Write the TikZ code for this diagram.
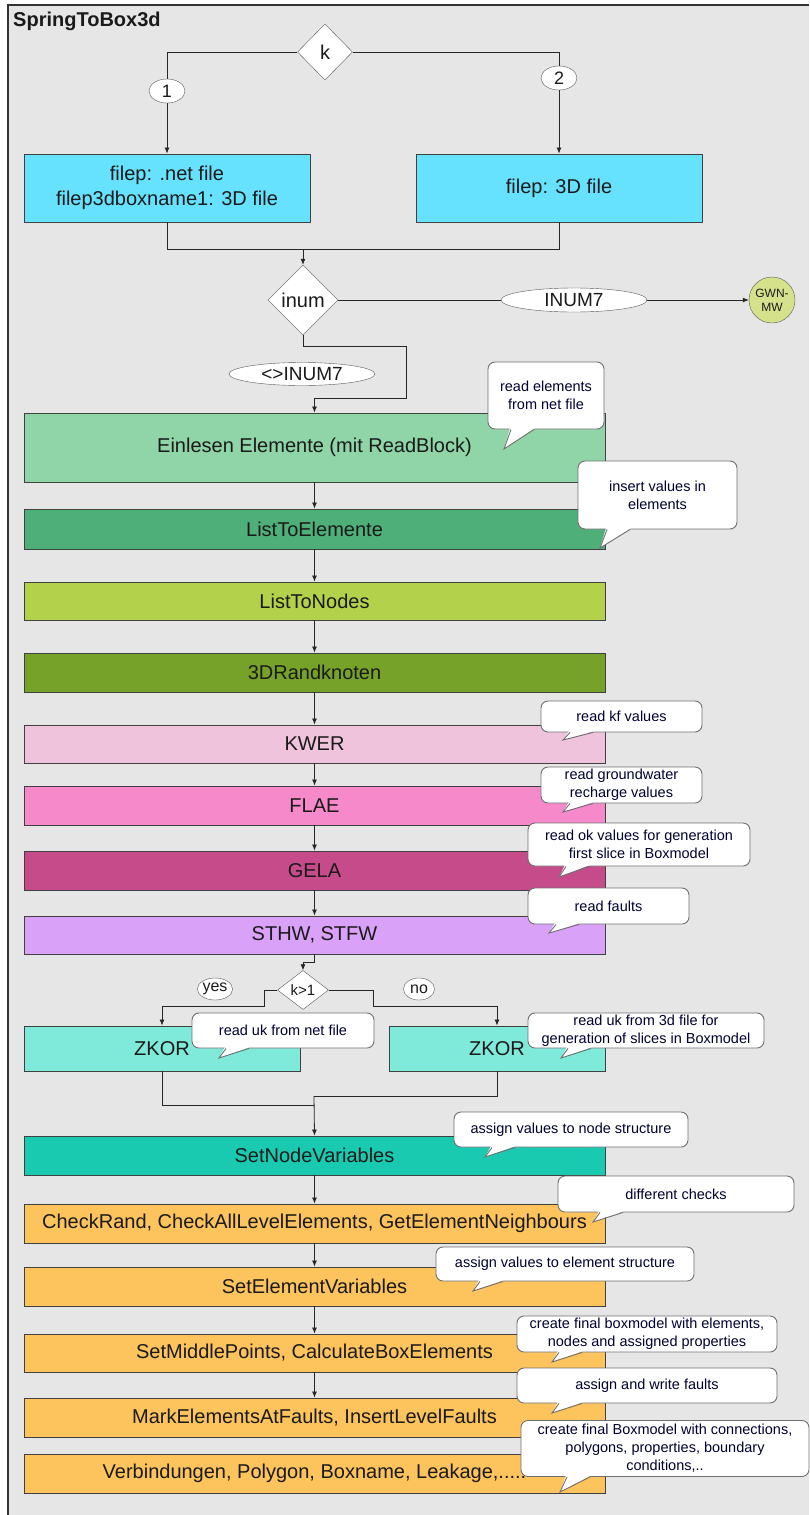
\documentclass[tikz,border=0pt]{standalone}
\usepackage{fontspec}
\setmainfont{Liberation Sans}
\usetikzlibrary{arrows.meta,shapes.geometric,calc}
\definecolor{bgg}{HTML}{E6E6E6}
\definecolor{edge}{HTML}{404040}
\definecolor{cyanb}{HTML}{66E2FF}
\definecolor{einc}{HTML}{8FD5A8}
\definecolor{ltec}{HTML}{4FAF78}
\definecolor{ltnc}{HTML}{B3D14B}
\definecolor{randc}{HTML}{76A22A}
\definecolor{kwerc}{HTML}{F0C3DD}
\definecolor{flaec}{HTML}{F589C9}
\definecolor{gelac}{HTML}{C54B8B}
\definecolor{sthwc}{HTML}{D9A1F7}
\definecolor{zkorc}{HTML}{80EADA}
\definecolor{snvc}{HTML}{19CAB0}
\definecolor{orangec}{HTML}{FDC35C}
\definecolor{gwnc}{HTML}{D6E28B}
\definecolor{calledge}{HTML}{707070}
\definecolor{txt}{HTML}{1A1A1A}
\tikzset{
  x=1pt, y=-1pt,
  procbox/.style={draw=edge, line width=0.9pt, rectangle, inner sep=0pt, text=txt,
    font=\fontsize{20}{24}\selectfont, align=center, minimum height=39pt},
  widebox/.style={procbox, minimum width=581pt},
  decis/.style={draw=gray!70!black, fill=white, diamond, inner sep=0pt, aspect=1, text=txt},
  lbl/.style={draw=gray!70!black, fill=white, ellipse, inner sep=0pt, text=txt},
  arr/.style={draw=black!85, line width=0.8pt, -{Latex[length=6pt,width=5pt]}},
  conn/.style={draw=black!85, line width=0.8pt},
  note/.style={draw=calledge, line width=0.9pt, fill=white, rounded corners=7pt, rectangle,
    inner sep=0pt, align=center, text=black!80!blue, font=\fontsize{14.5}{18}\selectfont},
  tailline/.style={draw=calledge, line width=0.9pt, line join=miter},
}
\newcommand\ctail[2]{%
  \fill[white] ($(#2 |- #1.south)+(6,-1.5)$) -- (#2) -- ($(#2 |- #1.south)+(31,-1.5)$) -- cycle;
  \draw[tailline] ($(#2 |- #1.south)+(7,0)$) -- (#2) -- ($(#2 |- #1.south)+(30,0)$);
}
\begin{document}
\begin{tikzpicture}
% background and frame
\useasboundingbox (0,0) rectangle (809,1515);
\fill[white] (0,0) rectangle (809,1515);
\fill[bgg] (8,5) rectangle (809,1515);
\draw[black!80, line width=1.2pt] (8,1515) -- (8,5) -- (809,5);
\node[anchor=west, font=\fontsize{20}{24}\selectfont\bfseries, text=txt, inner sep=0pt] (title) at (13,21) {SpringToBox3d};

% decision k and input boxes
\node[decis, minimum width=55pt, minimum height=56pt, font=\fontsize{20}{24}\selectfont] (k) at (325,52) {k};
\node[procbox, fill=cyanb, minimum width=286pt, minimum height=68pt, font=\fontsize{20}{25}\selectfont] (b1) at (167,188) {filep: .net file\\filep3dboxname1: 3D file};
\node[procbox, fill=cyanb, minimum width=286pt, minimum height=68pt] (b2) at (559,188) {filep: 3D file};
\draw[arr] (k.west) -| (b1.north);
\draw[arr] (k.east) -| (b2.north);
\node[lbl, minimum width=36pt, minimum height=24pt, font=\fontsize{18}{20}\selectfont] (l1) at (167,91) {1};
\node[lbl, minimum width=36pt, minimum height=24pt, font=\fontsize{18}{20}\selectfont] (l2) at (559,78) {2};

% decision inum
\node[decis, minimum width=70pt, minimum height=70pt, font=\fontsize{20}{24}\selectfont] (inum) at (303,300) {inum};
\coordinate (j1) at (303,249);
\draw[conn] (b1.south) |- (j1);
\draw[conn] (b2.south) |- (j1);
\draw[arr] (j1) -- (inum.north);
\node[circle, draw=gray!70!black, fill=gwnc, minimum size=46pt, inner sep=0pt, align=center,
  font=\fontsize{12}{14}\selectfont, text=txt] (gwn) at (772,300) {GWN-\\MW};
\draw[arr] (inum.east) -- (gwn.west);
\node[lbl, minimum width=146pt, minimum height=24pt, font=\fontsize{19}{22}\selectfont] (linum) at (574,300) {INUM7};

% main column
\node[widebox, fill=einc, minimum height=69pt] (ein) at (314.5,447.5) {Einlesen Elemente (mit ReadBlock)};
\coordinate (c1) at (406,346);
\coordinate (c2) at (406,398);
\draw[arr] (inum.south) |- (c1) -- (c2) -| (ein.north);
\node[lbl, minimum width=146pt, minimum height=23pt, font=\fontsize{19}{22}\selectfont] (lnot) at (302,374) {<>INUM7};

\node[widebox, fill=ltec, minimum height=40pt] (lte) at (314.5,529) {ListToElemente};
\node[widebox, fill=ltnc, minimum height=38pt] (ltn) at (314.5,601) {ListToNodes};
\node[widebox, fill=randc] (rand) at (314.5,672.5) {3DRandknoten};
\node[widebox, fill=kwerc, minimum height=38pt] (kwer) at (314.5,744) {KWER};
\node[widebox, fill=flaec] (flae) at (314.5,805.5) {FLAE};
\node[widebox, fill=gelac] (gela) at (314.5,870.5) {GELA};
\node[widebox, fill=sthwc, minimum height=38pt] (sthw) at (314.5,935) {STHW, STFW};
\draw[arr] (ein.south) -- (lte.north);
\draw[arr] (lte.south) -- (ltn.north);
\draw[arr] (ltn.south) -- (rand.north);
\draw[arr] (rand.south) -- (kwer.north);
\draw[arr] (kwer.south) -- (flae.north);
\draw[arr] (flae.south) -- (gela.north);
\draw[arr] (gela.south) -- (sthw.north);

% decision k>1
\node[decis, minimum width=51pt, minimum height=39pt, font=\fontsize{15}{18}\selectfont] (kg) at (303,990) {k>1};
\draw[arr] (sthw.south) -- ++(0,8) -| (kg.north);
\node[procbox, fill=zkorc, minimum width=276pt, minimum height=45pt] (zkl) at (162,1048.5) {ZKOR};
\node[procbox, fill=zkorc, minimum width=216pt, minimum height=45pt] (zkr) at (497,1048.5) {ZKOR};
\coordinate (c3) at (264,1006);
\coordinate (c4) at (373,1006);
\draw[arr] (kg.west) -| (c3) -| (zkl.north);
\draw[arr] (kg.east) -| (c4) -| (zkr.north);
\node[lbl, minimum width=33pt, minimum height=22pt, font=\fontsize{16}{18}\selectfont] (lyes) at (215,989) {yes};
\node[lbl, minimum width=31pt, minimum height=22pt, font=\fontsize{16}{18}\selectfont] (lno) at (419,989) {no};

\node[widebox, fill=snvc] (snv) at (314.5,1155.5) {SetNodeVariables};
\coordinate (j2) at (314,1096);
\coordinate (j3) at (314,1105);
\draw[conn] (zkl.south) |- (j3);
\draw[conn] (zkr.south) |- (j2);
\draw[arr] (j2) -- (snv.north);

\node[widebox, fill=orangec] (chk) at (314.5,1223.5) {CheckRand, CheckAllLevelElements, GetElementNeighbours};
\node[widebox, fill=orangec] (sev) at (314.5,1286.5) {SetElementVariables};
\node[widebox, fill=orangec, minimum height=38pt] (smp) at (314.5,1353) {SetMiddlePoints, CalculateBoxElements};
\node[widebox, fill=orangec] (mef) at (314.5,1417.5) {MarkElementsAtFaults, InsertLevelFaults};
\node[widebox, fill=orangec] (vbd) at (314.5,1473.5) {Verbindungen, Polygon, Boxname, Leakage,.....};
\draw[arr] (snv.south) -- (chk.north);
\draw[arr] (chk.south) -- (sev.north);
\draw[arr] (sev.south) -- (smp.north);
\draw[arr] (smp.south) -- (mef.north);

% callouts
\node[note, minimum width=116pt, minimum height=67pt] (n1) at (546,395.5) {read elements\\from net file};
\coordinate (t1) at (504,449); \ctail{n1}{t1}
\node[note, minimum width=159pt, minimum height=68pt] (n2) at (657.5,495) {insert values in\\elements};
\coordinate (t2) at (600,548); \ctail{n2}{t2}
\node[note, minimum width=161pt, minimum height=31pt] (n3) at (621.5,716.5) {read kf values};
\coordinate (t3) at (563,740); \ctail{n3}{t3}
\node[note, minimum width=161pt, minimum height=36pt] (n4) at (621.5,785) {read groundwater\\recharge values};
\coordinate (t4) at (563,812); \ctail{n4}{t4}
\node[note, minimum width=222pt, minimum height=43pt] (n5) at (639,844.5) {read ok values for generation\\first slice in Boxmodel};
\coordinate (t5) at (559,877); \ctail{n5}{t5}
\node[note, minimum width=161pt, minimum height=36pt] (n6) at (608.5,906) {read faults};
\coordinate (t6) at (549,933); \ctail{n6}{t6}
\node[note, minimum width=182pt, minimum height=35pt] (n7) at (283,1030.5) {read uk from net file};
\coordinate (t7) at (219,1058); \ctail{n7}{t7}
\node[note, minimum width=236pt, minimum height=35pt] (n8) at (646,1030.5) {read uk from 3d file for\\generation of slices in Boxmodel};
\coordinate (t8) at (561,1058); \ctail{n8}{t8}
\node[note, minimum width=234pt, minimum height=35pt] (n9) at (571,1129.5) {assign values to node structure};
\coordinate (t9) at (485,1157); \ctail{n9}{t9}
\node[note, minimum width=236pt, minimum height=36pt] (n10) at (676,1194) {different checks};
\coordinate (t10) at (593,1222); \ctail{n10}{t10}
\node[note, minimum width=258pt, minimum height=34pt] (n11) at (565,1264) {assign values to element structure};
\coordinate (t11) at (473,1291); \ctail{n11}{t11}
\node[note, minimum width=260pt, minimum height=36pt] (n12) at (647,1334) {create final boxmodel with elements,\\nodes and assigned properties};
\coordinate (t12) at (552,1362); \ctail{n12}{t12}
\node[note, minimum width=260pt, minimum height=35pt] (n13) at (647,1385.5) {assign and write faults};
\coordinate (t13) at (552,1413); \ctail{n13}{t13}
\node[note, minimum width=288pt, minimum height=56pt] (n14) at (665,1448.5) {create final Boxmodel with connections,\\polygons, properties, boundary\\conditions,..};
\coordinate (t14) at (560,1492); \ctail{n14}{t14}
\end{tikzpicture}
\end{document}
